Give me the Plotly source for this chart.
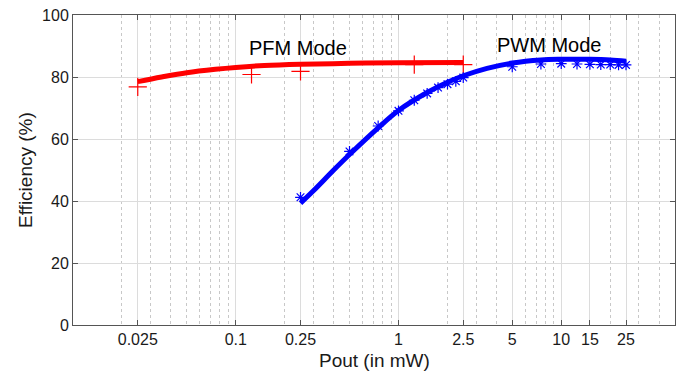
import math
import plotly.graph_objects as go

# PFM mode data
pfm_line_x = [0.025, 0.035, 0.05, 0.075, 0.1, 0.15, 0.25, 0.5, 1.0, 2.5]
pfm_line_y = [78.5, 80.0, 81.4, 82.5, 83.1, 83.7, 84.1, 84.4, 84.6, 84.7]
pfm_mark_x = [0.025, 0.125, 0.25, 1.25, 2.5]
pfm_mark_y = [76.8, 80.8, 81.8, 84.0, 84.0]

# PWM mode data
pwm_line_x = [0.25, 0.3, 0.4, 0.5, 0.75, 1.0, 1.5, 2.0, 2.5, 3.5, 5.0, 7.5, 10, 15, 20, 25]
pwm_line_y = [39.3, 43.3, 50.0, 55.0, 63.6, 69.2, 75.0, 78.3, 80.4, 82.8, 84.5, 85.5, 85.7, 85.7, 85.5, 85.1]
pwm_mark_x = [0.25, 0.5, 0.75, 1.0, 1.25, 1.5, 1.75, 2.0, 2.25, 2.5, 5, 7.5, 10, 12.5, 15, 17.5, 20, 22.5, 25]
pwm_mark_y = [41.2, 56.0, 64.2, 69.1, 72.5, 74.7, 76.6, 77.7, 78.6, 79.8, 83.3, 84.2, 84.3, 84.2, 84.1, 84.0, 84.0, 83.9, 83.9]

x_tickvals = [0.025, 0.1, 0.25, 1, 2.5, 5, 10, 15, 25]
x_ticktext = ["0.025", "0.1", "0.25", "1", "2.5", "5", "10", "15", "25"]
x_minor = [0.02, 0.03, 0.04, 0.05, 0.06, 0.07, 0.08, 0.09,
           0.2, 0.3, 0.4, 0.5, 0.6, 0.7, 0.8, 0.9,
           2, 3, 4, 6, 7, 8, 9, 20, 30, 40]
y_tickvals = [0, 20, 40, 60, 80, 100]

annotations_text = ["PFM Mode", "PWM Mode"]
annotations_x = [0.24, 8.4]
annotations_y = [89.5, 90.3]

x_title = "Pout (in mW)"
y_title = "Efficiency (%)"

FONT = "Liberation Sans, Arial"

fig = go.Figure()
fig.add_trace(go.Scatter(x=pfm_line_x, y=pfm_line_y, mode="lines",
                         line=dict(color="#ff0000", width=5, shape="spline"),
                         showlegend=False, hoverinfo="skip"))
fig.add_trace(go.Scatter(x=pfm_mark_x, y=pfm_mark_y, mode="markers",
                         marker=dict(symbol="cross-thin-open", size=13, color="#ff0000",
                                     line=dict(color="#ff0000", width=1.2)),
                         showlegend=False))
fig.add_trace(go.Scatter(x=pwm_line_x, y=pwm_line_y, mode="lines",
                         line=dict(color="#0000ff", width=5, shape="spline"),
                         showlegend=False, hoverinfo="skip"))
fig.add_trace(go.Scatter(x=pwm_mark_x, y=pwm_mark_y, mode="markers",
                         marker=dict(symbol="asterisk-open", size=9, color="#0000ff",
                                     line=dict(color="#0000ff", width=1.2)),
                         showlegend=False))

for t, ax_, ay_ in zip(annotations_text, annotations_x, annotations_y):
    fig.add_annotation(x=math.log10(ax_), y=ay_, text=t, showarrow=False, xref="x", yref="y",
                       font=dict(size=20, color="#000000", family=FONT))

# axis titles
fig.add_annotation(x=0.5, y=0, xref="paper", yref="paper", text=x_title, showarrow=False,
                   yanchor="middle", yshift=-35,
                   font=dict(size=19, color="#1a1a1a", family=FONT))
fig.add_annotation(x=0, y=0.5, xref="paper", yref="paper", text=y_title, showarrow=False,
                   textangle=-90, xanchor="center", xshift=-48,
                   font=dict(size=19, color="#1a1a1a", family=FONT))

axis_common = dict(showline=True, linecolor="#555555", linewidth=1, mirror="allticks",
                   ticks="inside", ticklen=5, tickcolor="#555555",
                   gridcolor="#dcdcdc", gridwidth=1, zeroline=False, automargin=False,
                   ticklabeloverflow="allow",
                   tickfont=dict(size=16, color="#1a1a1a", family=FONT))

fig.update_xaxes(type="log", range=[-2, 1.699], tickmode="array",
                 tickvals=x_tickvals, ticktext=x_ticktext,
                 minor=dict(tickmode="array", tickvals=x_minor, showgrid=True,
                            griddash="dot", gridcolor="#c8c8c8", ticks=""),
                 **axis_common)
fig.update_yaxes(range=[0, 100], tickmode="array", tickvals=y_tickvals,
                 **axis_common)

fig.update_layout(width=683, height=373, margin=dict(l=73, r=8, t=15, b=48),
                  plot_bgcolor="white", paper_bgcolor="white")
fig.write_html("out.html", config={"displayModeBar": False},
               post_script="document.body.style.margin='0';")
